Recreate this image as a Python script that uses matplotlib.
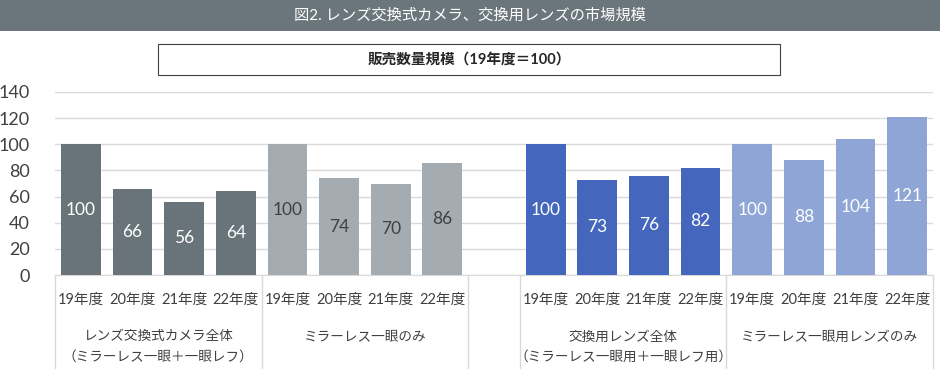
import matplotlib
matplotlib.use("Agg")
import matplotlib.pyplot as plt
from matplotlib.patches import Rectangle
import matplotlib.transforms as mtransforms

plt.rcParams["font.family"] = ["Lato", "Noto Sans CJK JP", "DejaVu Sans"]

years = ["19年度", "20年度", "21年度", "22年度"]
group_names = [
    "レンズ交換式カメラ全体\n（ミラーレス一眼＋一眼レフ）",
    "ミラーレス一眼のみ",
    "交換用レンズ全体\n（ミラーレス一眼用＋一眼レフ用）",
    "ミラーレス一眼用レンズのみ",
]
camera_all = [100, 66, 56, 64]
mirrorless = [100, 74, 70, 86]
lens_all = [100, 73, 76, 82]
mirrorless_lens = [100, 88, 104, 121]

series = [camera_all, mirrorless, lens_all, mirrorless_lens]
bar_colors = ["#68737a", "#a5acb1", "#4467bd", "#8ea5d6"]
label_colors = ["white", "#404040", "white", "white"]
group_starts = [0, 4, 9, 13]

fig = plt.figure(figsize=(9.4, 3.69), dpi=100)

# title band
fig.patches.append(Rectangle((0, 1 - 31 / 369), 1, 31 / 369, transform=fig.transFigure,
                             facecolor="#6b767c", edgecolor="none"))
fig.text(0.5, 1 - 16 / 369, "図2. レンズ交換式カメラ、交換用レンズの市場規模",
         color="white", fontsize=11, ha="center", va="center")

# subtitle box
fig.patches.append(Rectangle((158 / 940, 1 - 75 / 369), 622 / 940, 31 / 369, transform=fig.transFigure,
                             facecolor="white", edgecolor="#404040", linewidth=0.8))
fig.text(469 / 940, 1 - 60 / 369, "販売数量規模（19年度＝100）", color="#262626",
         fontsize=10.5, fontweight="bold", ha="center", va="center")

ax = fig.add_axes([55 / 940, 1 - 275 / 369, 878 / 940, 183 / 369])

xticks, xlabels = [], []
for vals, start, color, lc in zip(series, group_starts, bar_colors, label_colors):
    xs = [start + i for i in range(len(vals))]
    bars = ax.bar(xs, vals, width=0.77, color=color, zorder=3)
    for b, v in zip(bars, vals):
        ax.text(b.get_x() + b.get_width() / 2, v / 2, str(v), ha="center", va="center",
                color=lc, fontsize=12.5, zorder=4)
    xticks += xs
    xlabels += years

ax.set_xlim(-0.5, 16.5)
ax.set_ylim(0, 140)
ax.set_yticks(range(0, 141, 20))
ax.yaxis.grid(True, color="#d9d9d9", linewidth=1, zorder=0)
ax.set_xticks(xticks)
ax.set_xticklabels(xlabels, fontsize=10.5, color="#404040")
ax.tick_params(axis="x", length=0, pad=13)
ax.tick_params(axis="y", length=0, pad=18, labelsize=13, labelcolor="#404040")
for s in ["top", "right", "left"]:
    ax.spines[s].set_visible(False)
ax.spines["bottom"].set_color("#d9d9d9")

trans = mtransforms.blended_transform_factory(ax.transData, ax.transAxes)
for xb in [-0.5, 3.5, 7.5, 8.5, 12.5, 16.5]:
    ax.plot([xb, xb], [0, -0.52], transform=trans, color="#d9d9d9", linewidth=1, clip_on=False)

for name, start in zip(group_names, group_starts):
    ax.text(start + 1.5, -0.30, name, transform=trans, ha="center", va="top",
            fontsize=9.8, color="#404040", linespacing=1.7)

fig.savefig("out.png", dpi=100, facecolor="white")
